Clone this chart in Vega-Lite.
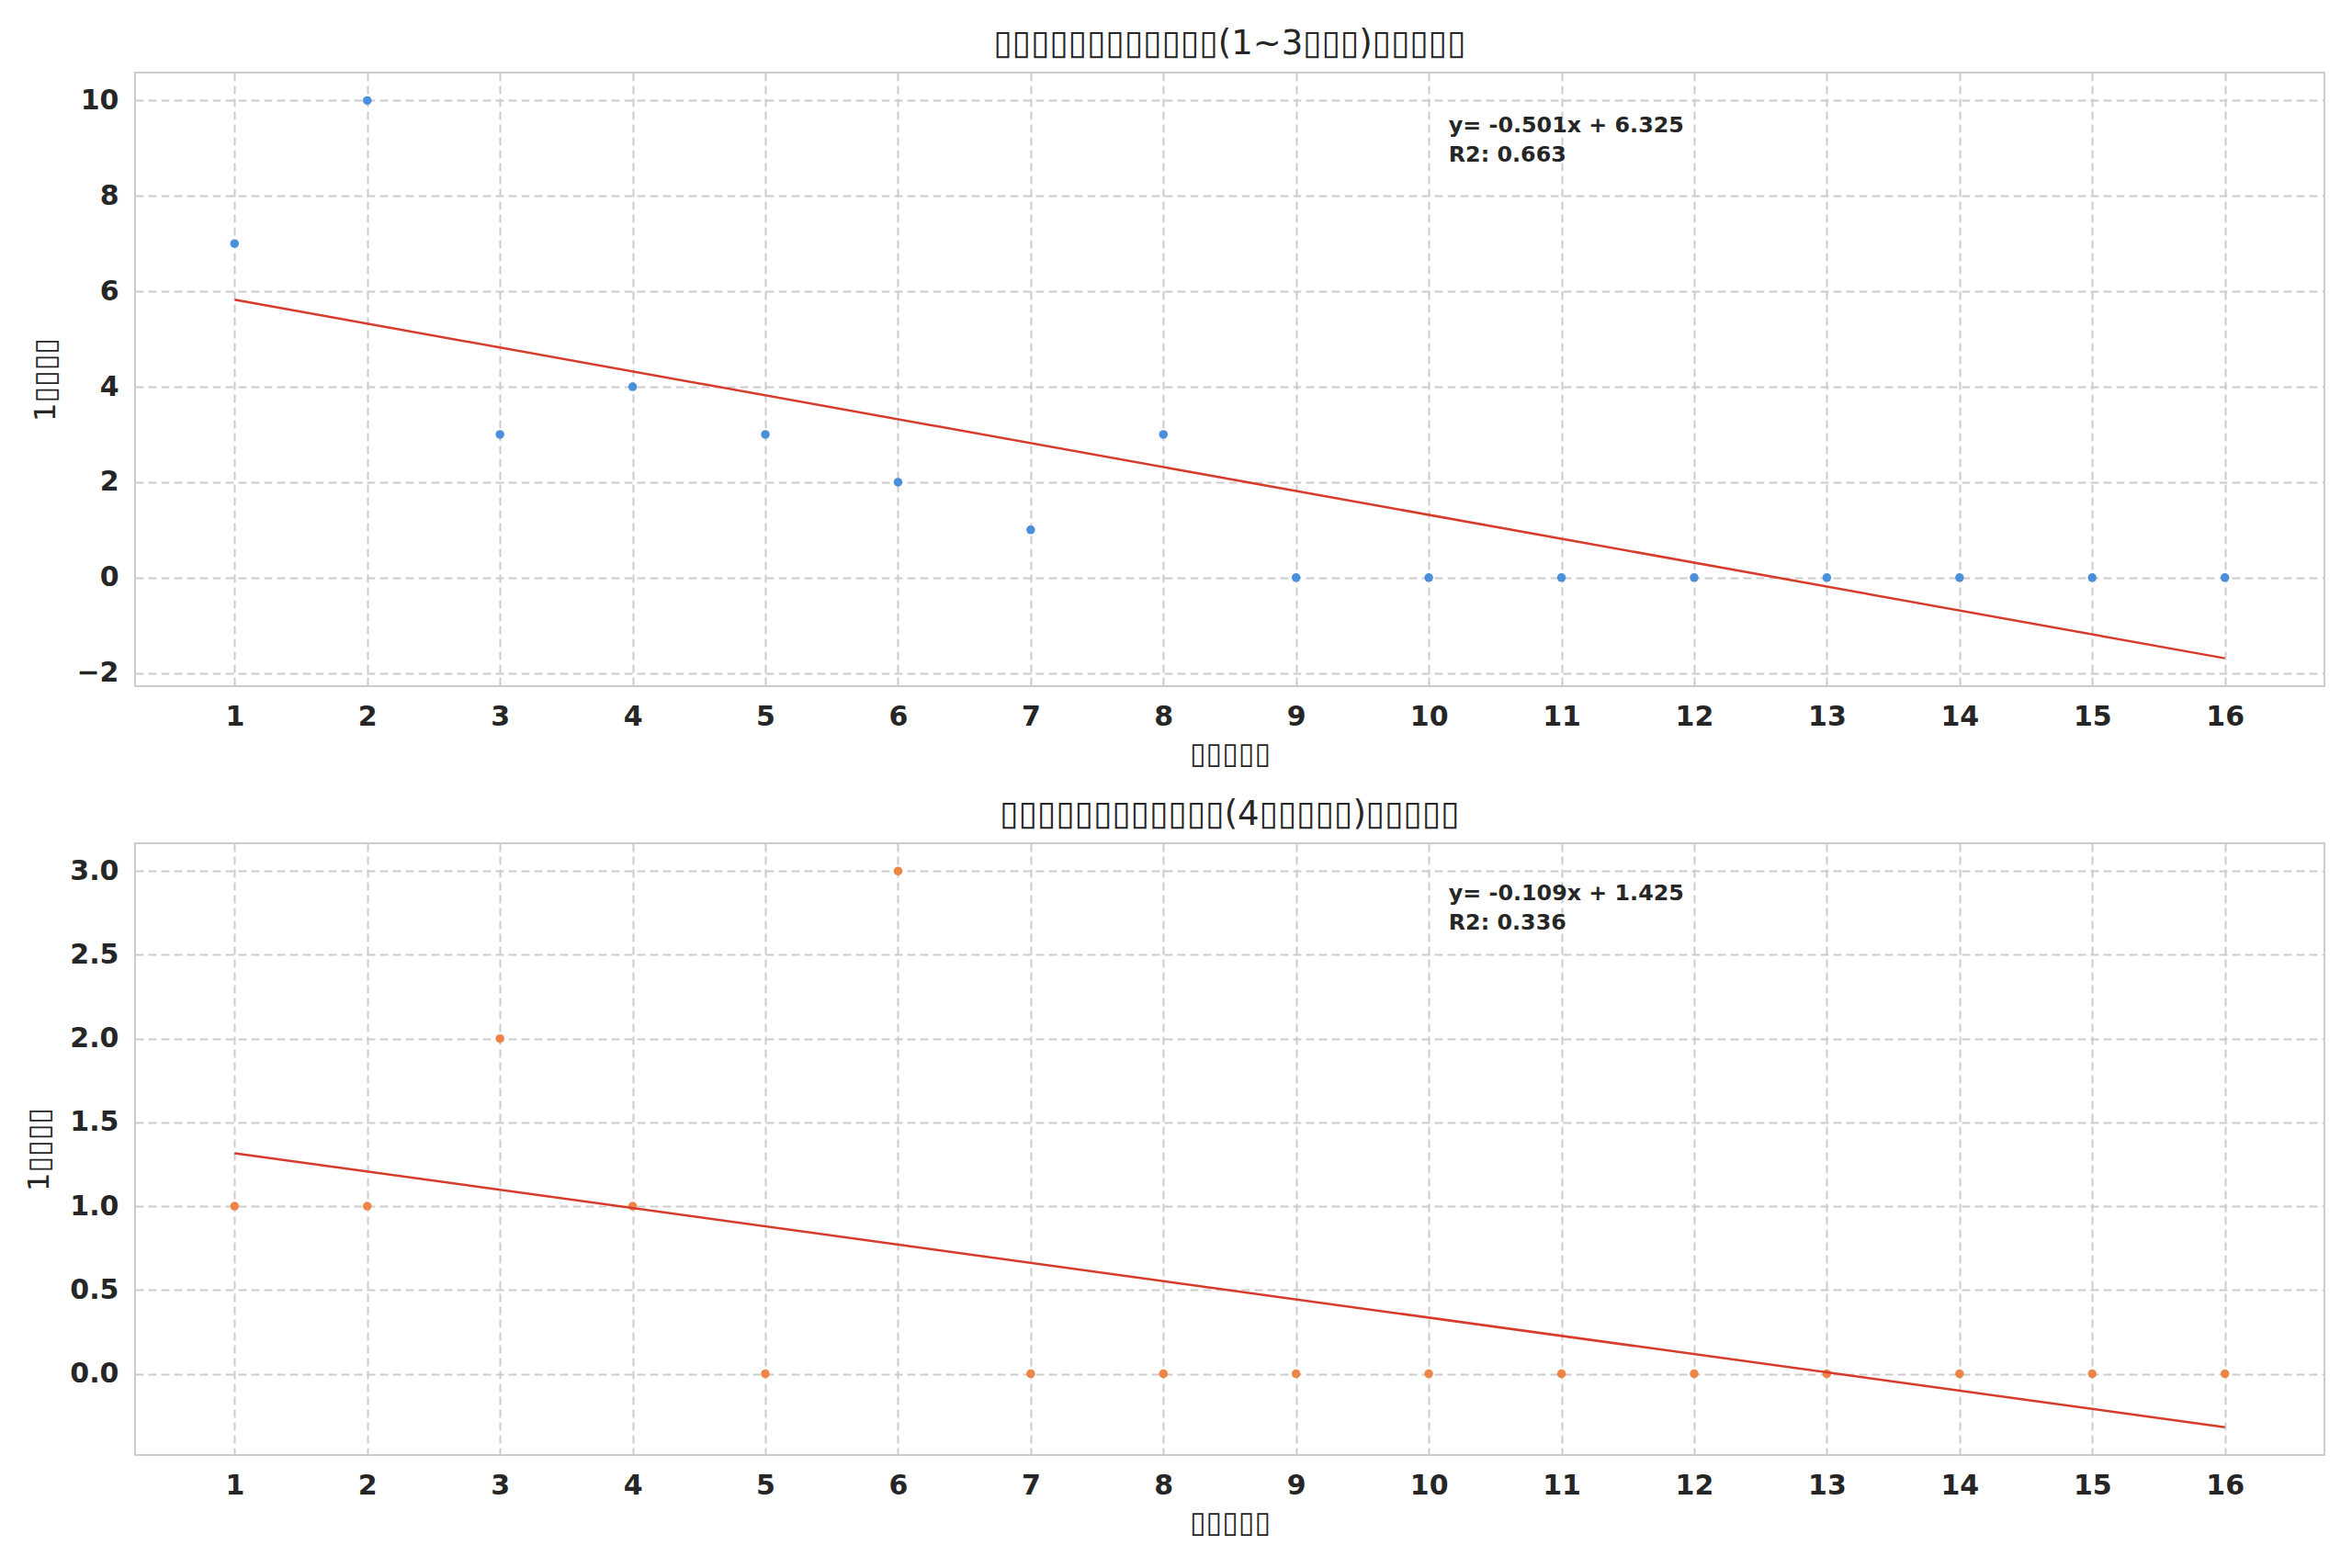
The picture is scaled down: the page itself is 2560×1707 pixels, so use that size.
{
  "$schema": "https://vega.github.io/schema/vega-lite/v6.json",
  "padding": {"top": 28, "left": 25, "right": 28, "bottom": 20},
  "spacing": 30,
  "background": "white",
  "config": {
    "font": "DejaVu Sans",
    "view": {"stroke": "#cccccc", "strokeWidth": 2},
    "title": {"fontSize": 37, "fontWeight": "normal", "color": "#262626", "offset": 12},
    "axis": {
      "domain": false,
      "ticks": false,
      "labelFontSize": 30,
      "labelFontWeight": "bold",
      "labelColor": "#262626",
      "titleFontSize": 32,
      "titleFontWeight": "normal",
      "titleColor": "#262626",
      "gridColor": "#cccccc",
      "gridDash": [9, 5],
      "gridWidth": 2
    },
    "axisX": {"labelPadding": 18, "titlePadding": 10},
    "axisY": {"labelPadding": 18, "titlePadding": 16}
  },
  "datasets": {
    "young": [
      {"week": 1, "count": 7}, {"week": 2, "count": 10}, {"week": 3, "count": 3}, {"week": 4, "count": 4},
      {"week": 5, "count": 3}, {"week": 6, "count": 2}, {"week": 7, "count": 1}, {"week": 8, "count": 3},
      {"week": 9, "count": 0}, {"week": 10, "count": 0}, {"week": 11, "count": 0}, {"week": 12, "count": 0},
      {"week": 13, "count": 0}, {"week": 14, "count": 0}, {"week": 15, "count": 0}, {"week": 16, "count": 0}
    ],
    "young_fit": [
      {"week": 1, "fit": 5.824}, {"week": 16, "fit": -1.691}
    ],
    "young_note": [
      {"week": 10.15, "count": 9.33, "label": "y= -0.501x + 6.325\nR2: 0.663"}
    ],
    "older": [
      {"week": 1, "count": 1}, {"week": 2, "count": 1}, {"week": 3, "count": 2}, {"week": 4, "count": 1},
      {"week": 5, "count": 0}, {"week": 6, "count": 3}, {"week": 7, "count": 0}, {"week": 8, "count": 0},
      {"week": 9, "count": 0}, {"week": 10, "count": 0}, {"week": 11, "count": 0}, {"week": 12, "count": 0},
      {"week": 13, "count": 0}, {"week": 14, "count": 0}, {"week": 15, "count": 0}, {"week": 16, "count": 0}
    ],
    "older_fit": [
      {"week": 1, "fit": 1.316}, {"week": 16, "fit": -0.319}
    ],
    "older_note": [
      {"week": 10.15, "count": 2.825, "label": "y= -0.109x + 1.425\nR2: 0.336"}
    ]
  },
  "vconcat": [
    {
      "width": 2383,
      "height": 668,
      "title": "▯▯▯▯▯▯▯▯▯▯▯▯(1~3▯▯▯)▯▯▯▯▯",
      "layer": [
        {
          "data": {"name": "young"},
          "mark": {"type": "point", "filled": true, "size": 90, "opacity": 1, "color": "#4a8fdc"},
          "encoding": {
            "x": {
              "field": "week", "type": "quantitative", "title": "▯▯▯▯▯",
              "scale": {"domain": [0.25, 16.75], "nice": false, "zero": false},
              "axis": {"values": [1,2,3,4,5,6,7,8,9,10,11,12,13,14,15,16], "format": "d"}
            },
            "y": {
              "field": "count", "type": "quantitative", "title": "1▯▯▯▯",
              "scale": {"domain": [-2.276, 10.585], "nice": false, "zero": false},
              "axis": {"values": [-2, 0, 2, 4, 6, 8, 10], "format": "d"}
            }
          }
        },
        {
          "data": {"name": "young_fit"},
          "mark": {"type": "line", "color": "#d63b2b", "strokeWidth": 2.5},
          "encoding": {
            "x": {"field": "week", "type": "quantitative"},
            "y": {"field": "fit", "type": "quantitative"}
          }
        },
        {
          "data": {"name": "young_note"},
          "mark": {"type": "text", "align": "left", "baseline": "alphabetic", "fontSize": 23.8, "fontWeight": "bold", "color": "#262626", "lineBreak": "\n", "lineHeight": 32},
          "encoding": {
            "x": {"field": "week", "type": "quantitative"},
            "y": {"field": "count", "type": "quantitative"},
            "text": {"field": "label"}
          }
        }
      ]
    },
    {
      "width": 2383,
      "height": 666,
      "title": "▯▯▯▯▯▯▯▯▯▯▯▯(4▯▯▯▯▯)▯▯▯▯▯",
      "layer": [
        {
          "data": {"name": "older"},
          "mark": {"type": "point", "filled": true, "size": 90, "opacity": 1, "color": "#ee8446"},
          "encoding": {
            "x": {
              "field": "week", "type": "quantitative", "title": "▯▯▯▯▯",
              "scale": {"domain": [0.25, 16.75], "nice": false, "zero": false},
              "axis": {"values": [1,2,3,4,5,6,7,8,9,10,11,12,13,14,15,16], "format": "d"}
            },
            "y": {
              "field": "count", "type": "quantitative", "title": "1▯▯▯▯",
              "scale": {"domain": [-0.485, 3.166], "nice": false, "zero": false},
              "axis": {"values": [0, 0.5, 1, 1.5, 2, 2.5, 3], "format": ".1f"}
            }
          }
        },
        {
          "data": {"name": "older_fit"},
          "mark": {"type": "line", "color": "#d63b2b", "strokeWidth": 2.5},
          "encoding": {
            "x": {"field": "week", "type": "quantitative"},
            "y": {"field": "fit", "type": "quantitative"}
          }
        },
        {
          "data": {"name": "older_note"},
          "mark": {"type": "text", "align": "left", "baseline": "alphabetic", "fontSize": 23.8, "fontWeight": "bold", "color": "#262626", "lineBreak": "\n", "lineHeight": 32},
          "encoding": {
            "x": {"field": "week", "type": "quantitative"},
            "y": {"field": "count", "type": "quantitative"},
            "text": {"field": "label"}
          }
        }
      ]
    }
  ]
}
